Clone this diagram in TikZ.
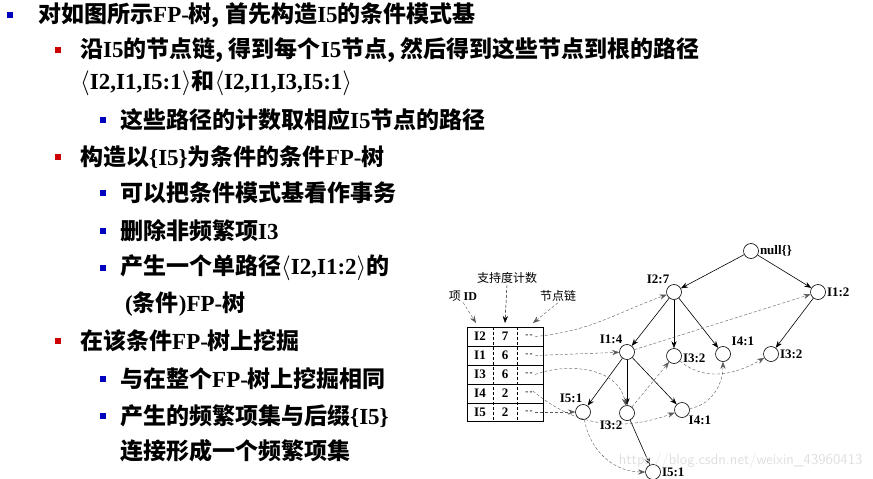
\documentclass[tikz,border=0pt]{standalone}
\usepackage{fontspec}
\setmainfont{Liberation Serif}
\newfontfamily\cjk{Noto Sans CJK SC}
\usetikzlibrary{arrows.meta}
\begin{document}
\begin{tikzpicture}[x=1pt,y=-1pt,
  txt/.style={anchor=west,inner sep=0,font=\fontsize{23}{26}\selectfont\bfseries},
  bb/.style={fill=blue!75!black,minimum size=6pt,inner sep=0},
  rb/.style={fill=red!80!black,minimum size=6pt,inner sep=0},
  tn/.style={circle,draw,semithick,minimum size=15pt,inner sep=0},
  nl/.style={font=\fontsize{13}{14}\selectfont\bfseries,inner sep=1pt},
  ed/.style={-{Stealth[length=7pt]},semithick},
  lk/.style={-{Stealth[length=7pt]},densely dashed,gray!70!black},
  cl/.style={font=\cjk\fontsize{12}{13}\selectfont,inner sep=1pt}]
\useasboundingbox (0,0) rectangle (873,479);
% text
\node[bb] (b1) at (10,15) {};
\node[txt] (t1) at (38,15) {\cjk 对如图所示\rmfamily FP-\cjk 树, 首先构造\rmfamily I5\cjk 的条件模式基};
\node[rb] (b2) at (58,50) {};
\node[txt] (t2) at (80,50) {\cjk 沿\rmfamily I5\cjk 的节点链, 得到每个\rmfamily I5\cjk 节点, 然后得到这些节点到根的路径};
\node[txt] (t3) at (80,83) {$\langle$I2,I1,I5:1$\rangle${\cjk 和}$\langle$I2,I1,I3,I5:1$\rangle$};
\node[bb] (b3) at (103,120) {};
\node[txt] (t4) at (120,120) {\cjk 这些路径的计数取相应\rmfamily I5\cjk 节点的路径};
\node[rb] (b4) at (58,157) {};
\node[txt] (t5) at (80,157) {\cjk 构造以\rmfamily\{I5\}\cjk 为条件的条件\rmfamily FP-\cjk 树};
\node[bb] (b5) at (103,193) {};
\node[txt] (t6) at (120,193) {\cjk 可以把条件模式基看作事务};
\node[bb] (b6) at (103,231) {};
\node[txt] (t7) at (120,231) {\cjk 删除非频繁项\rmfamily I3};
\node[bb] (b7) at (103,268) {};
\node[txt] (t8) at (120,268) {\cjk 产生一个单路径\rmfamily$\langle$I2,I1:2$\rangle$\cjk 的};
\node[txt] (t9) at (125,304) {({\cjk 条件})FP-{\cjk 树}};
\node[rb] (b8) at (58,341) {};
\node[txt] (t10) at (80,341) {\cjk 在该条件\rmfamily FP-\cjk 树上挖掘};
\node[bb] (b9) at (103,379) {};
\node[txt] (t11) at (120,379) {\cjk 与在整个\rmfamily FP-\cjk 树上挖掘相同};
\node[bb] (b10) at (103,416) {};
\node[txt] (t12) at (120,416) {\cjk 产生的频繁项集与后缀\rmfamily\{I5\}};
\node[txt] (t13) at (120,451) {\cjk 连接形成一个频繁项集};
% tree
\node[tn] (nul) at (751,251) {};
\node[tn] (a27) at (674,292) {};
\node[tn] (a12) at (818,292) {};
\node[tn] (a14) at (627,352) {};
\node[tn] (m32) at (674,356) {};
\node[tn] (t41) at (723,354) {};
\node[tn] (r32) at (771,354) {};
\node[tn] (l51) at (583,412) {};
\node[tn] (l32) at (627,413) {};
\node[tn] (l41) at (682,410) {};
\node[tn] (b51) at (653,472) {};
\node[nl,right] at (nul.east) {null\{\}};
\node[nl,anchor=south east] at ([xshift=2pt,yshift=2pt]a27.north west) {I2:7};
\node[nl,right] at (a12.east) {I1:2};
\node[nl,anchor=south east] at ([xshift=2pt,yshift=2pt]a14.north west) {I1:4};
\node[nl,right] at ([yshift=-2pt]m32.east) {I3:2};
\node[nl,anchor=south west] at ([xshift=2pt,yshift=2pt]t41.north east) {I4:1};
\node[nl,right] at (r32.east) {I3:2};
\node[nl,anchor=south east] at ([xshift=6pt,yshift=3pt]l51.north west) {I5:1};
\node[nl,anchor=north east] at ([xshift=2pt,yshift=-1pt]l32.south west) {I3:2};
\node[nl,anchor=west] at ([yshift=-5pt]l41.south east) {I4:1};
\node[nl,right] at (b51.east) {I5:1};
\draw[ed] (nul) -- (a27);
\draw[ed] (nul) -- (a12);
\draw[ed] (a27) -- (a14);
\draw[ed] (a27) -- (m32);
\draw[ed] (a27) -- (t41);
\draw[ed] (a12) -- (r32);
\draw[ed] (a14) -- (l51);
\draw[ed] (a14) -- (l32);
\draw[ed] (a14) -- (l41);
\draw[ed] (l32) -- (b51);
% table
\draw[semithick] (467,327) rectangle (543,421);
\foreach \yy in {346,365,384,403} \draw[semithick] (467,\yy) -- (543,\yy);
\draw[densely dashed] (493,327) -- (493,421);
\draw[densely dashed] (517,327) -- (517,421);
\foreach \n/\c/\yy in {2/7/336.5,1/6/355.5,3/6/374.5,4/2/393.5,5/2/412}{
  \node[nl] at (480,\yy) {I\n};
  \node[nl] at (505,\yy) {\c};
  \node[font=\bfseries\small] at (529,\yy) {-\,-};
}
\coordinate (r2) at (535,336.5);
\coordinate (r1) at (535,355.5);
\coordinate (r3) at (535,374.5);
\coordinate (r4) at (533,391);
\coordinate (r5) at (535,412);
\node[cl] (lid) at (463,296) {项 \bfseries\rmfamily ID};
\node[cl] (lsup) at (507,278) {支持度计数};
\node[cl] (llk) at (558,296) {节点链};
\draw[lk] (lid.south) -- (476,323);
\draw[-{Stealth[length=7pt]},densely dashed] (lsup.south) -- (505,323);
\draw[lk] (llk.south) -- (533,323);
% node links
\draw[lk] (r2) to[out=5,in=200] (a27);
\draw[lk] (r1) -- (a14);
\draw[lk] (a14) -- (a12);
\draw[lk] (r3) to[out=20,in=100] (l32);
\draw[lk] (l32) -- (m32);
\draw[lk] (m32) to[out=-40,in=-150] (r32);
\draw[lk] (r4) to[out=-40,in=-160] (l41);
\draw[lk] (l41) to[out=10,in=-90] (t41);
\draw[lk] (r5) -- (l51);
\draw[lk] (l51) to[out=-80,in=180] (b51);
\node[font=\sffamily\fontsize{15}{16}\selectfont,text=gray!25,anchor=east] at (866,461) {https://blog.csdn.net/weixin\_43960413};
\end{tikzpicture}
\end{document}
